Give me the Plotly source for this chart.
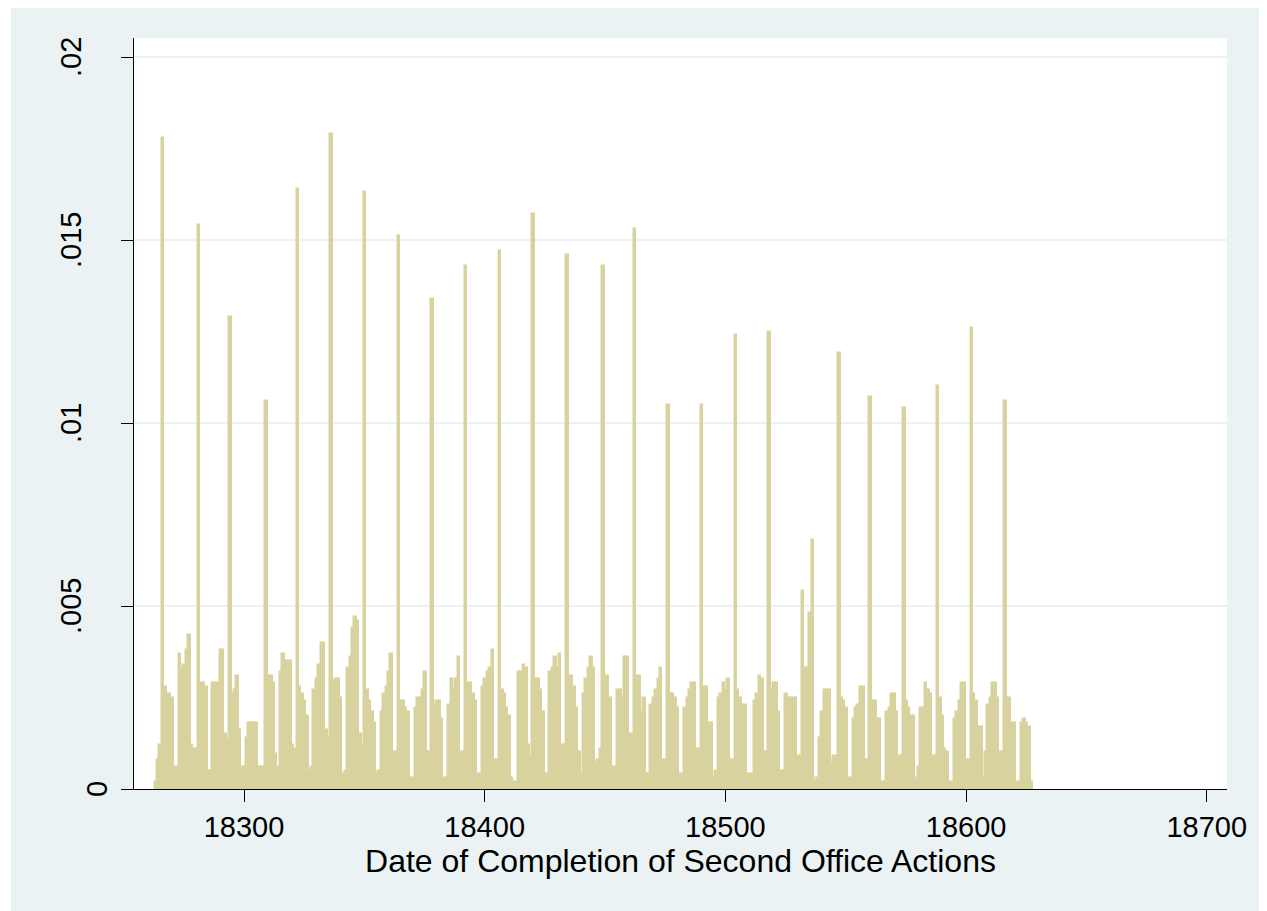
import plotly.graph_objects as go

# Daily density of completion dates (Stata date values)
start_date = 18263
density = [
    0.0002, 0.0008, 0.0012,
    0.0178, 0.0028, 0.0026, 0.0026, 0.0025, 0.0006, 0.0006,
    0.0037, 0.0033, 0.0034, 0.0038, 0.0042, 0.0012, 0.0011,
    0.0011, 0.0154, 0.0029, 0.0029, 0.0028, 0.0005, 0.0005,
    0.0029, 0.0029, 0.0029, 0.0038, 0.0038, 0.0015, 0.0013,
    0.0129, 0.0026, 0.0027, 0.0031, 0.0016, 0.0006, 0.0006,
    0.0014, 0.0018, 0.0018, 0.0018, 0.0018, 0.0006, 0.0006,
    0.0006, 0.0106, 0.0031, 0.0031, 0.0029, 0.00095, 0.0006,
    0.0032, 0.0037, 0.0035, 0.0035, 0.0035, 0.0012, 0.0011,
    0.0164, 0.0028, 0.0026, 0.0024, 0.0020, 0.0005, 0.0006,
    0.0027, 0.0030, 0.0034, 0.0040, 0.0040, 0.0016, 0.0014,
    0.0179, 0.0029, 0.0030, 0.0030, 0.0025, 0.0004, 0.0005,
    0.0033, 0.0036, 0.0044, 0.0047, 0.0046, 0.0015, 0.0012,
    0.0163, 0.0027, 0.0024, 0.0021, 0.0018, 0.0004, 0.0005,
    0.0021, 0.0026, 0.0028, 0.0032, 0.0037, 0.0010, 0.0010,
    0.0151, 0.0024, 0.0024, 0.0022, 0.0021, 0.0003, 0.0003,
    0.0022, 0.0025, 0.0025, 0.0027, 0.0032, 0.0010, 0.0010,
    0.0134, 0.0023, 0.0024, 0.0024, 0.0019, 0.0003, 0.0003,
    0.0023, 0.0030, 0.0027, 0.0030, 0.0036, 0.0010, 0.0010,
    0.0143, 0.0029, 0.0029, 0.0026, 0.0024, 0.0004, 0.0004,
    0.0028, 0.0030, 0.0032, 0.0033, 0.0038, 0.0008, 0.0008,
    0.0147, 0.0027, 0.0026, 0.0022, 0.0020, 0.0003, 0.0002,
    0.0002, 0.0032, 0.0032, 0.0034, 0.0033, 0.0012, 0.0009,
    0.0157, 0.0030, 0.0030, 0.0027, 0.0021, 0.0004, 0.0004,
    0.0032, 0.0033, 0.0036, 0.0033, 0.0037, 0.0012, 0.0012,
    0.0146, 0.0031, 0.0031, 0.0028, 0.0022, 0.0010, 0.0004,
    0.0026, 0.0030, 0.0033, 0.0036, 0.0033, 0.0007, 0.0008,
    0.0011, 0.0143, 0.0031, 0.0031, 0.0025, 0.0006, 0.0006,
    0.0027, 0.0027, 0.0025, 0.0036, 0.0036, 0.0015, 0.0015,
    0.0153, 0.0031, 0.0031, 0.0021, 0.0025, 0.0004, 0.0004,
    0.0023, 0.0025, 0.0027, 0.0030, 0.0033, 0.0008, 0.0008,
    0.0105, 0.0026, 0.0026, 0.0025, 0.0022, 0.0004, 0.0004,
    0.0022, 0.0025, 0.0027, 0.0029, 0.0029, 0.0011, 0.0011,
    0.0105, 0.0028, 0.0028, 0.0018, 0.0018, 0.0003, 0.0005,
    0.0025, 0.0026, 0.0029, 0.0027, 0.0030, 0.0008, 0.0008,
    0.0124, 0.0027, 0.0025, 0.0023, 0.0023, 0.0004, 0.0004,
    0.0004, 0.0024, 0.0026, 0.0031, 0.0030, 0.0010, 0.0010,
    0.0125, 0.0027, 0.0029, 0.0029, 0.0021, 0.0005, 0.0005,
    0.0026, 0.0025, 0.0025, 0.0025, 0.0025, 0.0009, 0.0009,
    0.0054, 0.0033, 0.0033, 0.0048, 0.0068, 0.0002, 0.0003,
    0.0014, 0.0021, 0.0027, 0.0027, 0.0027, 0.0007, 0.0009,
    0.0009, 0.0119, 0.0025, 0.0024, 0.0022, 0.0003, 0.0003,
    0.0019, 0.0022, 0.0023, 0.0028, 0.0028, 0.0008, 0.0008,
    0.0107, 0.0024, 0.0024, 0.0019, 0.0019, 0.0002, 0.0002,
    0.0021, 0.0022, 0.0026, 0.0026, 0.0021, 0.0009, 0.0009,
    0.0104, 0.0024, 0.0022, 0.0020, 0.0020, 0.0003, 0.0006,
    0.0022, 0.0022, 0.0029, 0.0027, 0.0026, 0.0009, 0.0009,
    0.0110, 0.0025, 0.0020, 0.0011, 0.0010, 0.0002, 0.0002,
    0.0019, 0.0021, 0.0024, 0.0029, 0.0029, 0.0008, 0.0008,
    0.0126, 0.0026, 0.0024, 0.0017, 0.0017, 0.0003, 0.0010,
    0.0023, 0.0025, 0.0029, 0.0029, 0.0025, 0.0010, 0.0010,
    0.0106, 0.0025, 0.0025, 0.0018, 0.0018, 0.0002, 0.0002,
    0.0018, 0.0019, 0.0018, 0.0017, 0.0002,
]
dates = list(range(start_date, start_date + len(density)))

x_ticks = [18300, 18400, 18500, 18600, 18700]
x_tick_text = ["18300", "18400", "18500", "18600", "18700"]
y_ticks = [0, 0.005, 0.01, 0.015, 0.02]
y_tick_text = ["0", ".005", ".01", ".015", ".02"]
x_title = "Date of Completion of Second Office Actions"

BAR = "#D8D29E"
BG = "#EAF2F3"
FONT = "Liberation Sans, Arial, sans-serif"

fig = go.Figure()
fig.add_trace(go.Bar(
    x=[d + 0.35 for d in dates],
    y=density,
    width=1,
    marker=dict(color=BAR, line=dict(color=BAR, width=1.5)),
    showlegend=False,
    hoverinfo="x+y",
))

# the page adds an 8px body margin, so the figure is sized to fill the window
W, H = 1259, 903
ml, mr, mt, mb = 126, 40, 30, 122
pw = W - ml - mr

fig.update_layout(
    width=W, height=H,
    margin=dict(l=ml, r=mr, t=mt, b=mb),
    paper_bgcolor=BG,
    plot_bgcolor="white",
    font=dict(family=FONT, color="black", size=29),
    bargap=0,
    xaxis=dict(
        range=[18254.3, 18708.4],
        tickvals=x_ticks, ticktext=x_tick_text,
        ticks="outside", ticklen=12, tickwidth=1.3, tickcolor="black",
        showline=True, linecolor="black", linewidth=1.3,
        showgrid=False, zeroline=False,
        tickfont=dict(size=29),
        title=dict(text=x_title, font=dict(size=32), standoff=1),
    ),
    yaxis=dict(
        range=[0, 0.02052],
        tickvals=y_ticks,
        showticklabels=False,
        ticks="outside", ticklen=12, tickwidth=1.3, tickcolor="black",
        showline=True, linecolor="black", linewidth=1.3,
        showgrid=True, gridcolor=BG, gridwidth=2,
        zeroline=False,
    ),
)

# y tick labels, rotated as in the reference
label_center_px = {"0": 89, ".005": 63, ".01": 63, ".015": 63, ".02": 63}
for val, txt in zip(y_ticks, y_tick_text):
    fig.add_annotation(
        x=(label_center_px[txt] - ml) / pw, xref="paper",
        y=val, yref="y",
        text=txt, textangle=-90, showarrow=False,
        xanchor="center", yanchor="middle",
        font=dict(size=29, family=FONT, color="black"),
    )

# thin white strip at the left edge of the outer background
fig.add_shape(type="rect", xref="paper", yref="paper",
              x0=(0 - ml) / pw, x1=(3 - ml) / pw, y0=-1, y1=2,
              fillcolor="white", line=dict(width=0), layer="below")

fig.write_html("out.html")
